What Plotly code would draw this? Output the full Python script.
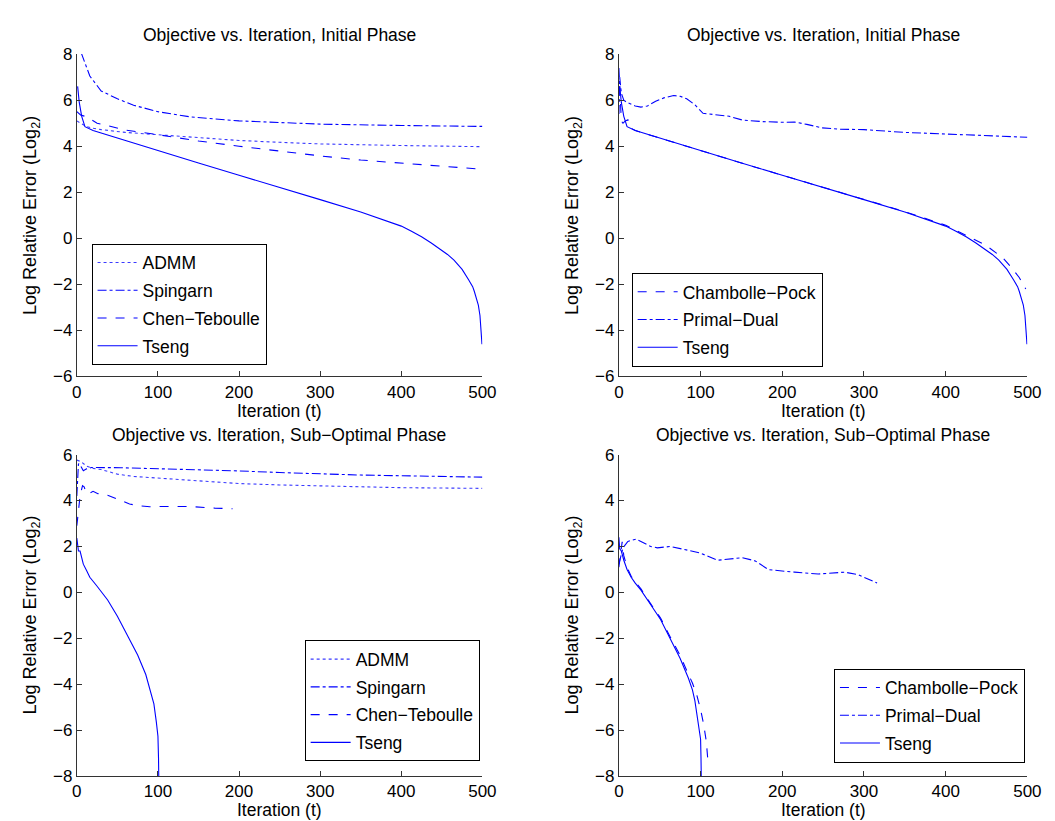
import plotly.graph_objects as go

# ---------------- data ----------------
# Top-left: Initial phase
tl_admm_x = [0, 5, 12, 20, 30, 60, 100, 150, 200, 250, 300, 400, 500]
tl_admm_y = [5.1, 5.0, 4.85, 4.78, 4.72, 4.6, 4.5, 4.37, 4.25, 4.17, 4.1, 4.03, 3.98]
tl_sping_x = [0, 6, 16, 30, 50, 70, 100, 139, 200, 250, 300, 400, 500]
tl_sping_y = [8.8, 8.0, 7.05, 6.4, 6.06, 5.78, 5.5, 5.28, 5.1, 5.02, 4.96, 4.9, 4.86]
tl_chen_x = [0, 5, 12, 25, 34, 60, 100, 150, 200, 250, 300, 350, 400, 450, 500]
tl_chen_y = [5.5, 5.35, 5.28, 5.0, 4.93, 4.7, 4.5, 4.23, 4.0, 3.78, 3.58, 3.4, 3.26, 3.12, 3.0]
tseng_init_x = [1, 3, 6, 10, 20, 30, 50, 100, 150, 200, 250, 300, 350, 375, 400, 412, 425,
                437, 450, 457, 465, 475, 483, 488, 490, 492, 495, 497, 498.5, 499.5]
tseng_init_y = [6.6, 5.9, 5.3, 4.85, 4.68, 4.57, 4.35, 3.8, 3.27, 2.74, 2.22, 1.68, 1.14,
                0.85, 0.53, 0.32, 0.07, -0.2, -0.5, -0.7, -0.95, -1.35, -1.8, -2.1, -2.3,
                -2.55, -2.9, -3.35, -3.9, -4.6]

# Top-right: Initial phase
tr_cp_x = [0, 1, 3, 5, 8, 11, 14, 20, 30, 50, 100, 150, 200, 250, 300, 350, 400, 425, 450,
           470, 480, 490, 498]
tr_cp_y = [7.4, 6.6, 5.1, 5.0, 5.1, 5.15, 4.8, 4.68, 4.57, 4.35, 3.8, 3.27, 2.74, 2.22, 1.7,
           1.16, 0.57, 0.14, -0.32, -0.85, -1.25, -1.7, -2.2]
tr_pd_x = [0, 1, 3, 6, 10, 20, 27, 35, 45, 55, 67, 75, 83, 93, 103, 119, 135, 151, 175, 200,
           215, 230, 248, 270, 300, 350, 400, 450, 500]
tr_pd_y = [5.4, 7.0, 6.3, 6.0, 5.9, 5.75, 5.7, 5.75, 5.95, 6.1, 6.2, 6.17, 6.06, 5.8, 5.43,
           5.35, 5.3, 5.14, 5.07, 5.04, 5.05, 4.95, 4.8, 4.74, 4.72, 4.6, 4.53, 4.46, 4.39]

# Bottom-left: Sub-optimal phase
bl_admm_x = [0, 5, 12, 20, 30, 50, 70, 100, 140, 200, 250, 300, 400, 500]
bl_admm_y = [5.76, 5.7, 5.5, 5.4, 5.35, 5.15, 5.05, 4.98, 4.88, 4.74, 4.68, 4.63, 4.56, 4.53]
bl_sping_x = [0, 1, 2, 4, 8, 12, 18, 54, 99, 150, 200, 250, 300, 350, 400, 450, 500]
bl_sping_y = [4.2, 5.0, 5.6, 5.55, 5.3, 5.38, 5.44, 5.43, 5.39, 5.34, 5.29, 5.22, 5.15, 5.11,
              5.08, 5.05, 5.02]
bl_chen_x = [0, 2, 4, 7, 9, 12, 16, 20, 26, 38, 46, 54, 65, 75, 90, 103, 139, 170, 192]
bl_chen_y = [2.9, 3.6, 4.2, 4.65, 4.6, 4.3, 4.32, 4.4, 4.3, 4.23, 4.12, 3.99, 3.85, 3.78,
             3.73, 3.74, 3.74, 3.67, 3.64]
bl_tseng_x = [0, 2, 4, 8, 12, 16, 24, 38, 50, 62, 75, 85, 91, 95, 98, 100, 100.7, 101]
bl_tseng_y = [2.36, 1.8, 1.8, 1.23, 0.95, 0.66, 0.31, -0.33, -1.04, -1.88, -2.73, -3.58,
              -4.29, -4.86, -5.64, -6.27, -7.2, -8.0]

# Bottom-right: Sub-optimal phase
br_cp_x = [0, 2, 4, 6, 10, 15, 27, 39, 51, 63, 75, 83, 90, 95, 100, 104, 107, 109]
br_cp_y = [1.1, 1.7, 2.2, 1.6, 1.1, 0.7, 0.15, -0.5, -1.12, -1.95, -2.75, -3.4, -3.95,
           -4.43, -5.1, -5.8, -6.5, -7.34]
br_pd_x = [0, 5, 11, 21, 39, 47, 63, 99, 121, 151, 167, 183, 215, 244, 276, 292, 316]
br_pd_y = [1.23, 1.94, 2.22, 2.32, 2.0, 1.94, 2.0, 1.72, 1.4, 1.51, 1.37, 0.99, 0.88, 0.8,
           0.88, 0.78, 0.41]
br_tseng_x = [0, 1, 3, 6, 10, 15, 20, 27, 39, 51, 63, 75, 85, 90, 93, 97, 99, 100, 100.5, 100.8]
br_tseng_y = [2.4, 1.9, 1.8, 1.4, 1.0, 0.66, 0.4, 0.1, -0.54, -1.18, -2.03, -2.88, -3.73,
              -4.25, -4.72, -5.57, -6.0, -6.4, -7.2, -8.0]

title_init = "Objective vs. Iteration, Initial Phase"
title_sub = "Objective vs. Iteration, Sub\u2212Optimal Phase"
xlabel = "Iteration (t)"
ylabel = "Log Relative Error (Log<sub>2</sub>)"
x_ticks = [0, 100, 200, 300, 400, 500]

# ---------------- figure ----------------
W, H = 1055, 821
FONT = "Liberation Sans, Arial, Helvetica, sans-serif"
BLUE = "#0000ff"
LW = 1.1

fig = go.Figure()

def px_x(p):
    return p / W

def px_y(p):
    return 1 - p / H

def add(x, y, name, dash, xa, ya, leg, color=BLUE):
    fig.add_trace(go.Scatter(
        x=x, y=y, mode="lines", name=name, xaxis=xa, yaxis=ya, legend=leg,
        legendgroup=leg + name,
        line=dict(color=color, width=LW, dash=dash),
        showlegend=True,
    ))

# top-left
add(tl_admm_x, tl_admm_y, "ADMM", "dot", "x", "y", "legend", "#3a3aff")
add(tl_sping_x, tl_sping_y, "Spingarn", "dashdot", "x", "y", "legend")
add(tl_chen_x, tl_chen_y, "Chen\u2212Teboulle", "dash", "x", "y", "legend")
add(tseng_init_x, tseng_init_y, "Tseng", "solid", "x", "y", "legend")
# top-right
add(tr_cp_x, tr_cp_y, "Chambolle\u2212Pock", "dash", "x2", "y2", "legend2")
add(tr_pd_x, tr_pd_y, "Primal\u2212Dual", "dashdot", "x2", "y2", "legend2")
add(tseng_init_x, tseng_init_y, "Tseng", "solid", "x2", "y2", "legend2")
# bottom-left
add(bl_admm_x, bl_admm_y, "ADMM", "dot", "x3", "y3", "legend3", "#3a3aff")
add(bl_sping_x, bl_sping_y, "Spingarn", "dashdot", "x3", "y3", "legend3")
add(bl_chen_x, bl_chen_y, "Chen\u2212Teboulle", "dash", "x3", "y3", "legend3")
add(bl_tseng_x, bl_tseng_y, "Tseng", "solid", "x3", "y3", "legend3")
# bottom-right
add(br_cp_x, br_cp_y, "Chambolle\u2212Pock", "dash", "x4", "y4", "legend4")
add(br_pd_x, br_pd_y, "Primal\u2212Dual", "dashdot", "x4", "y4", "legend4")
add(br_tseng_x, br_tseng_y, "Tseng", "solid", "x4", "y4", "legend4")

xdom_l = [px_x(65), px_x(478)]
xdom_r = [px_x(617), px_x(1033)]
ydom_t = [px_y(368), px_y(38)]
ydom_b = [px_y(777), px_y(448)]

TICKF = dict(family=FONT, size=17, color="black")

def xaxis(dom, anchor):
    return dict(domain=dom, anchor=anchor, range=[0, 500], tickvals=x_ticks,
                showgrid=False, zeroline=False, showline=True, linecolor="#333",
                linewidth=1, ticks="inside", ticklen=5, tickcolor="#333",
                tickfont=TICKF, mirror=False, fixedrange=True)

def yaxis(dom, anchor, rng):
    return dict(domain=dom, anchor=anchor, range=rng, dtick=2, tick0=0,
                showgrid=False, zeroline=False, showline=True, linecolor="#333",
                linewidth=1, ticks="inside", ticklen=5, tickcolor="#333",
                tickfont=TICKF, mirror=False, fixedrange=True)

LEGF = dict(family=FONT, size=17.5, color="black")

def legend(xp, yp):
    return dict(x=px_x(xp), y=px_y(yp), xanchor="left", yanchor="top",
                bgcolor="white", bordercolor="black", borderwidth=1,
                font=LEGF, tracegroupgap=2, itemwidth=40)

annotations = []
def ann(text, xp, yp, angle=0, size=17.5):
    annotations.append(dict(text=text, x=px_x(xp), y=px_y(yp), xref="paper",
                            yref="paper", showarrow=False, textangle=angle,
                            xanchor="center", yanchor="middle",
                            font=dict(family=FONT, size=size, color="black")))

ann(title_init, 271, 18)
ann(title_init, 825, 18)
ann(title_sub, 271, 428)
ann(title_sub, 825, 428)
ann(xlabel, 271, 403, size=17.5)
ann(xlabel, 825, 403, size=17.5)
ann(xlabel, 271, 812, size=17.5)
ann(xlabel, 825, 812, size=17.5)
ann(ylabel, 19, 203, -90, size=18)
ann(ylabel, 571, 203, -90, size=18)
ann(ylabel, 19, 612, -90, size=18)
ann(ylabel, 571, 612, -90, size=18)

fig.update_layout(
    width=W, height=H,
    margin=dict(l=0, r=0, t=0, b=0),
    paper_bgcolor="white", plot_bgcolor="white",
    font=dict(family=FONT, size=17, color="black"),
    xaxis=xaxis(xdom_l, "y"), yaxis=yaxis(ydom_t, "x", [-6, 8]),
    xaxis2=xaxis(xdom_r, "y2"), yaxis2=yaxis(ydom_t, "x2", [-6, 8]),
    xaxis3=xaxis(xdom_l, "y3"), yaxis3=yaxis(ydom_b, "x3", [-8, 6]),
    xaxis4=xaxis(xdom_r, "y4"), yaxis4=yaxis(ydom_b, "x4", [-8, 6]),
    legend=legend(80, 232),
    legend2=legend(630, 262),
    legend3=legend(297, 638),
    legend4=legend(836, 667),
    annotations=annotations,
    showlegend=True,
)

fig.write_html("out.html")
